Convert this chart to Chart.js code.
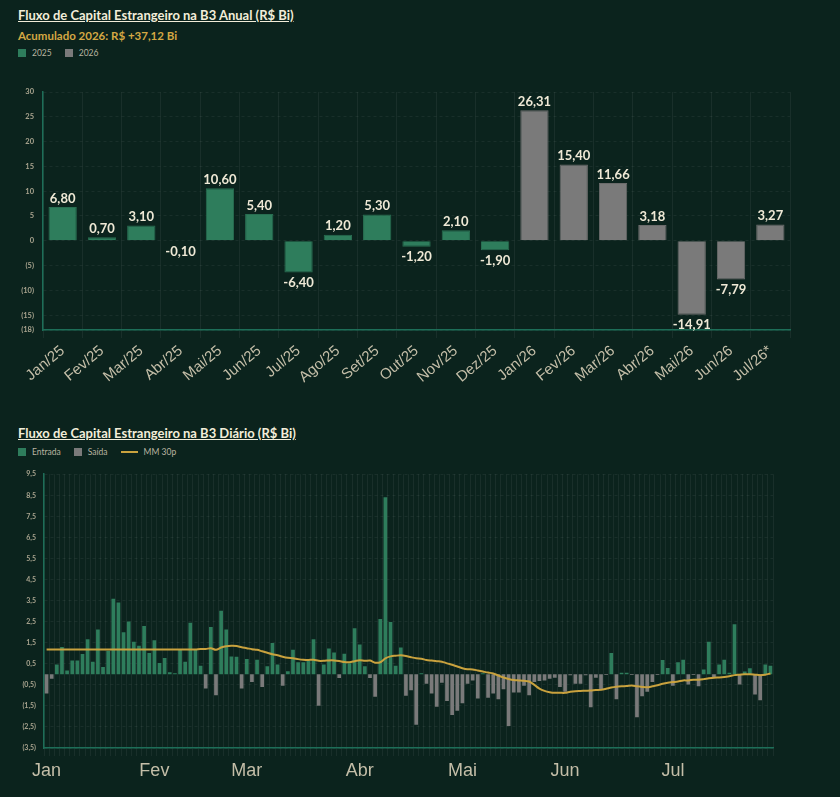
<!DOCTYPE html>
<html lang="pt-BR">
<head>
<meta charset="utf-8">
<title>Fluxo de Capital Estrangeiro na B3</title>
<script src="https://cdn.jsdelivr.net/npm/chart.js@4.4.1/dist/chart.umd.min.js"></script>
<style>
    html, body { margin: 0; padding: 0; }
    body {
        width: 840px;
        height: 797px;
        background: #0b231d;
        position: relative;
        overflow: hidden;
        font-family: Lato, "Noto Sans", sans-serif;
    }
    .titulo {
        position: absolute;
        left: 18px;
        font-size: 13px;
        font-weight: bold;
        color: #f2edd9;
        text-decoration: underline;
        line-height: 15px;
        white-space: nowrap;
    }
    .subtitulo {
        position: absolute;
        left: 18px;
        font-size: 11.5px;
        font-weight: bold;
        color: #d4a843;
        line-height: 14px;
    }
    .legenda {
        position: absolute;
        left: 18px;
        display: flex;
        align-items: center;
        font-size: 8.5px;
        color: #b9b4a0;
        line-height: 10px;
    }
    .legenda span.item { display: flex; align-items: center; margin-right: 13px; }
    .legenda i { display: inline-block; width: 8px; height: 8px; margin-right: 6px; }
    .legenda i.linha { width: 17px; height: 2px; }
    .grafico { position: absolute; left: 0; }
</style>
</head>
<body>
    <div class="titulo" style="top:8px">Fluxo de Capital Estrangeiro na B3 Anual (R$ Bi)</div>
    <div class="subtitulo" style="top:29px">Acumulado 2026: R$ +37,12 Bi</div>
    <div class="legenda" style="top:48px">
        <span class="item"><i style="background:#2e7d5c"></i>2025</span>
        <span class="item"><i style="background:#7a7a7a"></i>2026</span>
    </div>
    <div class="grafico" style="top:62px; width:840px; height:330px;">
        <canvas id="graficoAnual"></canvas>
    </div>

    <div class="titulo" style="top:426px">Fluxo de Capital Estrangeiro na B3 Diário (R$ Bi)</div>
    <div class="legenda" style="top:447px">
        <span class="item"><i style="background:#2e7d5c"></i>Entrada</span>
        <span class="item"><i style="background:#7a7a7a"></i>Saída</span>
        <span class="item"><i class="linha" style="background:#c9a23e"></i>MM 30p</span>
    </div>
    <div class="grafico" style="top:462px; width:840px; height:335px;">
        <canvas id="graficoDiario"></canvas>
    </div>

<script>
// Dados mensais (R$ Bi)
const mesesAnual = ['Jan/25', 'Fev/25', 'Mar/25', 'Abr/25', 'Mai/25', 'Jun/25', 'Jul/25', 'Ago/25', 'Set/25', 'Out/25', 'Nov/25', 'Dez/25',
    'Jan/26', 'Fev/26', 'Mar/26', 'Abr/26', 'Mai/26', 'Jun/26', 'Jul/26*'];
const valores2025 = [6.80, 0.70, 3.10, -0.10, 10.60, 5.40, -6.40, 1.20, 5.30, -1.20, 2.10, -1.90];
const valores2026 = [26.31, 15.40, 11.66, 3.18, -14.91, -7.79, 3.27];

// Dados diarios (R$ Bi)
const nomesMeses = ['Jan', 'Fev', 'Mar', 'Abr', 'Mai', 'Jun', 'Jul'];
const pregoesPorMes = [21, 18, 22, 20, 20, 21, 20];
const fluxoDiario = [
    -0.91, -0.21, 0.46, 1.29, 0.18, 0.65, 0.65, 0.96, 1.66, 0.60,
    2.13, 0.35, 1.12, 3.59, 3.41, 1.99, 2.51, 1.54, 1.35, 2.29,
    1.01, 1.62, 0.53, 0.77, 0.10, 0.05, 1.15, 0.60, 2.45, 1.15,
    0.41, -0.68, 2.24, -0.99, 3.02, 2.13, 0.85, 0.83, -0.68, 0.73,
    -0.37, 0.69, -0.60, 0.38, 1.48, 0.46, -0.55, 0.15, 1.16, 0.57,
    0.57, 0.65, 1.66, -1.49, 0.46, 1.23, 1.04, -0.18, 0.98, 0.52,
    2.18, 1.41, 0.38, -0.18, -1.07, 2.63, 8.41, 2.48, 0.41, 1.27,
    -1.02, -0.76, -2.40, 0.05, -0.45, -0.91, -1.54, -0.40, -1.27, -1.93,
    -1.73, -1.38, -0.45, -0.29, -1.15, 0.05, -1.12, -0.91, -1.18, -0.71,
    -2.45, -0.87, -0.87, -0.55, -0.99, -0.37, -0.32, -0.29, -0.21, -0.16,
    -0.60, -0.83, -0.05, -0.45, -0.45, -0.05, -1.57, -0.16, -0.71, -0.03,
    1.01, -1.18, 0.07, 0.07, -0.03, -2.04, -1.04, -0.83, -0.37, -0.03,
    0.68, 0.30, -0.55, 0.57, 0.69, -0.48, -0.03, -0.57, 0.23, 1.54,
    -0.18, 0.46, 0.69, 0.07, 2.37, -0.49, 0.13, 0.29, -0.96, -1.23,
    0.46, 0.41
];
const mediaMovel30 = [
    1.18, 1.18, 1.18, 1.18, 1.18, 1.18, 1.18, 1.18, 1.18, 1.18,
    1.18, 1.18, 1.18, 1.18, 1.18, 1.18, 1.18, 1.18, 1.18, 1.18,
    1.18, 1.18, 1.18, 1.18, 1.18, 1.18, 1.18, 1.18, 1.18, 1.18,
    1.20, 1.20, 1.24, 1.16, 1.27, 1.33, 1.35, 1.34, 1.28, 1.24,
    1.19, 1.16, 1.09, 1.02, 0.95, 0.90, 0.83, 0.78, 0.76, 0.72,
    0.69, 0.68, 0.69, 0.64, 0.64, 0.66, 0.66, 0.63, 0.58, 0.57,
    0.62, 0.67, 0.64, 0.65, 0.55, 0.57, 0.76, 0.85, 0.88, 0.90,
    0.87, 0.81, 0.76, 0.74, 0.68, 0.65, 0.62, 0.60, 0.52, 0.45,
    0.37, 0.29, 0.24, 0.23, 0.18, 0.13, 0.08, 0.04, -0.06, -0.15,
    -0.22, -0.27, -0.29, -0.31, -0.34, -0.50, -0.68, -0.79, -0.85, -0.88,
    -0.88, -0.88, -0.83, -0.80, -0.79, -0.78, -0.77, -0.75, -0.74, -0.69,
    -0.63, -0.59, -0.57, -0.56, -0.53, -0.57, -0.60, -0.62, -0.57, -0.52,
    -0.45, -0.40, -0.37, -0.34, -0.29, -0.29, -0.26, -0.26, -0.23, -0.19,
    -0.16, -0.15, -0.13, -0.09, -0.04, -0.02, 0.00, 0.00, -0.02, -0.04,
    -0.02, 0.04
];

// Cores
const corVerde = '#2e7d5c';
const corCinza = '#7a7a7a';
const corDourado = '#c9a23e';
const corEixo = '#1d6e58';
const corGrade = 'rgba(255, 255, 255, 0.06)';
const corTextoEixo = '#a9a48f';
const corRotulos = '#c4bea8';

Chart.defaults.font.family = 'Lato, "Noto Sans", sans-serif';
Chart.defaults.animation = false;

document.addEventListener('DOMContentLoaded', function() {
    criarGraficoAnual();
    criarGraficoDiario();
});

// Utilitarios de formatacao
function formatarValor(v) {
    return v.toFixed(2).replace('.', ',');
}

function formatarTickAnual(v) {
    return v < 0 ? `(${Math.abs(v)})` : `${v}`;
}

function formatarTickDiario(v) {
    const txt = Math.abs(v).toFixed(1).replace('.', ',');
    return v < 0 ? `(${txt})` : txt;
}

// Rotulos de valor em cima/embaixo das barras
const rotulosValores = {
    id: 'rotulosValores',
    afterDatasetsDraw(chart) {
        const ctx = chart.ctx;
        ctx.save();
        ctx.font = 'bold 13px Lato, "Noto Sans", sans-serif';
        ctx.fillStyle = '#efe9d6';
        ctx.textAlign = 'center';
        chart.data.datasets.forEach((ds, i) => {
            const meta = chart.getDatasetMeta(i);
            meta.data.forEach((bar, j) => {
                const v = ds.data[j];
                if (v === null || v === undefined) return;
                if (v >= 0) {
                    ctx.textBaseline = 'bottom';
                    ctx.fillText(formatarValor(v), bar.x, bar.y - 2);
                } else {
                    ctx.textBaseline = 'top';
                    ctx.fillText(formatarValor(v), bar.x, Math.max(bar.y, bar.base) + 4);
                }
            });
        });
        ctx.restore();
    }
};

function criarGraficoAnual() {
    const ctx = document.getElementById('graficoAnual');
    const n2025 = valores2025.length;

    const dados2025 = mesesAnual.map((m, i) => i < n2025 ? valores2025[i] : null);
    const dados2026 = mesesAnual.map((m, i) => i >= n2025 ? valores2026[i - n2025] : null);

    new Chart(ctx, {
        type: 'bar',
        data: {
            labels: mesesAnual,
            datasets: [{
                label: '2025',
                data: dados2025,
                backgroundColor: corVerde,
                borderColor: '#286e51',
                borderWidth: 1
            }, {
                label: '2026',
                data: dados2026,
                backgroundColor: corCinza,
                borderColor: '#6b6b6b',
                borderWidth: 1
            }]
        },
        options: {
            responsive: true,
            maintainAspectRatio: false,
            grouped: false,
            barPercentage: 0.8,
            categoryPercentage: 0.9,
            layout: { padding: { top: 30, right: 50, left: 0, bottom: 0 } },
            plugins: {
                legend: { display: false },
                tooltip: { enabled: false }
            },
            scales: {
                x: {
                    grid: { color: corGrade, offset: true, tickLength: 8 },
                    border: { color: corEixo, width: 1.5 },
                    ticks: {
                        color: corRotulos,
                        font: { family: '"Liberation Sans", Arial, sans-serif', size: 15 },
                        minRotation: 40,
                        maxRotation: 40,
                        autoSkip: false,
                        padding: 4
                    },
                    afterFit: function(scale) { scale.height = 62; }
                },
                y: {
                    min: -18,
                    max: 30,
                    ticks: {
                        stepSize: 5,
                        color: corTextoEixo,
                        font: { size: 7.5, weight: 'bold' },
                        padding: 9,
                        callback: formatarTickAnual
                    },
                    grid: { color: corGrade, drawTicks: false },
                    border: { color: corEixo, width: 1.5, dash: [3, 3] },
                    afterFit: function(scale) { scale.width = 43; }
                }
            }
        },
        plugins: [rotulosValores]
    });
}

function criarGraficoDiario() {
    const ctx = document.getElementById('graficoDiario');

    // Um rotulo por pregao; so o primeiro de cada mes mostra o nome
    const rotulos = [];
    nomesMeses.forEach((nome, m) => {
        for (let d = 0; d < pregoesPorMes[m]; d++) {
            rotulos.push(d === 0 ? nome : '');
        }
    });

    const entradas = fluxoDiario.map(v => v >= 0 ? v : null);
    const saidas = fluxoDiario.map(v => v < 0 ? v : null);

    new Chart(ctx, {
        type: 'bar',
        data: {
            labels: rotulos,
            datasets: [{
                type: 'line',
                label: 'MM 30p',
                data: mediaMovel30,
                borderColor: corDourado,
                borderWidth: 2,
                pointRadius: 0,
                tension: 0.3,
                fill: false,
                order: 0
            }, {
                label: 'Entrada',
                data: entradas,
                backgroundColor: corVerde,
                order: 1
            }, {
                label: 'Saída',
                data: saidas,
                backgroundColor: corCinza,
                order: 1
            }]
        },
        options: {
            responsive: true,
            maintainAspectRatio: false,
            grouped: false,
            barPercentage: 0.72,
            categoryPercentage: 1.0,
            layout: { padding: { top: 6, right: 67, left: 0, bottom: 0 } },
            plugins: {
                legend: { display: false },
                tooltip: { enabled: false }
            },
            scales: {
                x: {
                    grid: { color: corGrade, offset: true, tickLength: 8 },
                    border: { color: corEixo, width: 1.5 },
                    ticks: {
                        color: corRotulos,
                        font: { family: '"Liberation Sans", Arial, sans-serif', size: 18 },
                        maxRotation: 0,
                        autoSkip: false,
                        padding: 4
                    },
                    afterFit: function(scale) { scale.height = 49; }
                },
                y: {
                    min: -3.5,
                    max: 9.5,
                    ticks: {
                        stepSize: 1,
                        color: corTextoEixo,
                        font: { size: 7, weight: 'bold' },
                        padding: 8,
                        callback: formatarTickDiario
                    },
                    grid: { color: corGrade, drawTicks: false },
                    border: { color: corEixo, width: 1.5, dash: [3, 3] },
                    afterFit: function(scale) { scale.width = 44; }
                }
            }
        }
    });
}
</script>
</body>
</html>
